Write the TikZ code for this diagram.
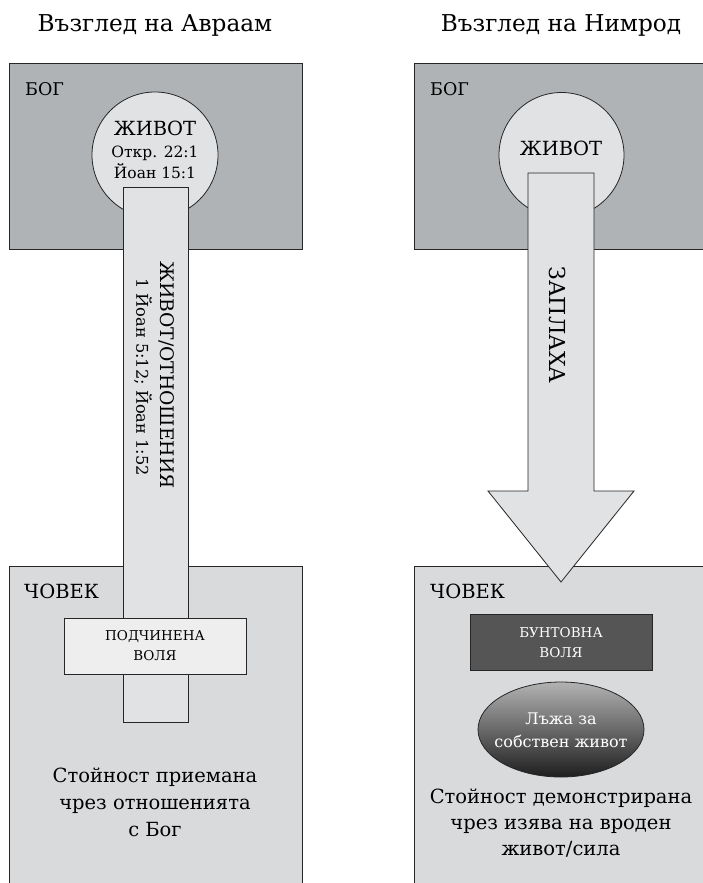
\documentclass[tikz,border=0pt]{standalone}
\usepackage{fontspec}
\setmainfont{DejaVu Serif}
\usetikzlibrary{shapes.geometric}
\usetikzlibrary{positioning}

\definecolor{godgray}{HTML}{B0B3B6}
\definecolor{mangray}{HTML}{D9DADC}
\definecolor{lifegray}{HTML}{E1E2E4}
\definecolor{willlight}{HTML}{EEEEEE}
\definecolor{willdark}{HTML}{555555}

\tikzset{
  titletext/.style={anchor=base, font=\fontsize{23.2}{26}\selectfont},
  cornertext/.style={anchor=base west, inner sep=0pt},
  godbox/.style={draw=black!85, line width=0.9pt, fill=godgray},
  manbox/.style={draw=black!85, line width=0.9pt, fill=mangray},
  lifefill/.style={draw=black!85, line width=0.8pt, fill=lifegray},
  willbox/.style={draw=black!85, line width=0.8pt, align=center,
    minimum width=182pt, minimum height=56pt,
    font=\fontsize{13.5}{20}\selectfont},
  valuetext/.style={align=center, font=\fontsize{19.5}{27}\selectfont},
}

\begin{document}
\begin{tikzpicture}[x=1pt, y=-1pt]
\useasboundingbox[fill=white] (0,0) rectangle (702,883);

% left: Abraham
\node[titletext] (titleA) at (155,32) {Възглед на Авраам};
\draw[godbox] (9,63) rectangle (302,249);
\node[cornertext, font=\fontsize{17.5}{20}\selectfont] (godA) at (25,95) {БОГ};
\draw[lifefill] (155,155) circle (63pt);
\node[anchor=base, font=\fontsize{19.5}{22}\selectfont] (lifeA) at (155,135) {ЖИВОТ};
\node[anchor=base, font=\fontsize{15.5}{20}\selectfont] (refA1) at (155,157) {Откр. 22:1};
\node[anchor=base, font=\fontsize{15.5}{20}\selectfont] (refA2) at (155,178) {Йоан 15:1};
\draw[manbox] (9,566) rectangle (302,900);
\node[cornertext, font=\fontsize{19.5}{22}\selectfont] (manA) at (24,598) {ЧОВЕК};
\draw[lifefill] (123,187) rectangle (188,722);
\node[rotate=-90, font=\fontsize{18.7}{22}\selectfont] (barA1) at (167,375) {ЖИВОТ/ОТНОШЕНИЯ};
\node[rotate=-90, font=\fontsize{16.2}{22}\selectfont] (barA2) at (143,377) {1 Йоан 5:12; Йоан 1:52};
\node[willbox, fill=willlight] (willA) at (155,646) {ПОДЧИНЕНА\\ВОЛЯ};
\node[valuetext] (valueA) at (155,802) {Стойност приемана\\чрез отношенията\\с Бог};

% right: Nimrod
\node[titletext] (titleN) at (561,32) {Възглед на Нимрод};
\draw[godbox] (414,63) rectangle (720,249);
\node[cornertext, font=\fontsize{17.5}{20}\selectfont] (godN) at (430,95) {БОГ};
\draw[lifefill] (561.5,155) circle (62.5pt);
\node[anchor=base, font=\fontsize{19.5}{22}\selectfont] (lifeN) at (561,155) {ЖИВОТ};
\draw[manbox] (414,566) rectangle (720,900);
\node[cornertext, font=\fontsize{19.5}{22}\selectfont] (manN) at (430,598) {ЧОВЕК};
\draw[lifefill, line join=miter] (528,173) -- (594,173) -- (594,491) -- (634,491)
  -- (561,582) -- (488,491) -- (528,491) -- cycle;
\node[rotate=-90, font=\fontsize{22}{24}\selectfont] (threat) at (557.5,325) {ЗАПЛАХА};
\node[willbox, fill=willdark, text=white] (willN) at (561,642.5) {БУНТОВНА\\ВОЛЯ};
\path[draw=black!85, line width=0.8pt, top color=black!30, bottom color=black!88]
  (561,729.5) ellipse [x radius=83pt, y radius=47.5pt];
\node[align=center, text=white, font=\fontsize{16}{23}\selectfont] (lie) at (561,730) {Лъжа за\\собствен живот};
\node[valuetext, font=\fontsize{19.5}{26}\selectfont] (valueN) at (561,823) {Стойност демонстрирана\\чрез изява на вроден\\живот/сила};
\end{tikzpicture}
\end{document}
